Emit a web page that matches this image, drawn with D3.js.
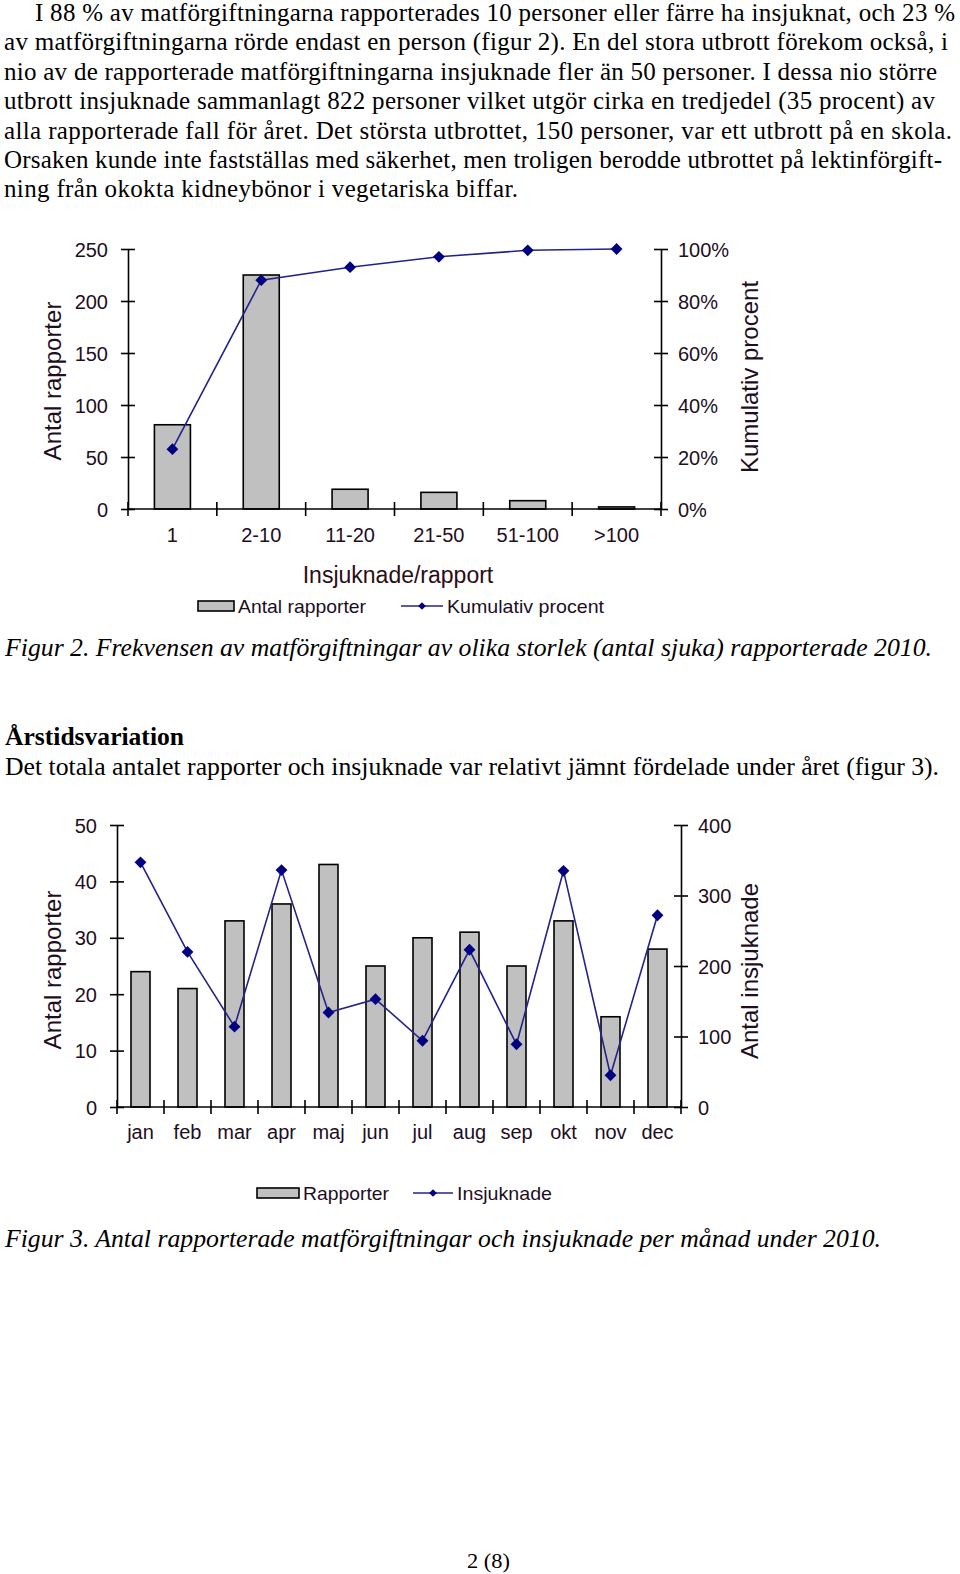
<!DOCTYPE html>
<html><head><meta charset="utf-8">
<script src="https://cdn.jsdelivr.net/npm/d3@7"></script>
<style>
html,body{margin:0;padding:0;background:#fff;}
svg{display:block;}
</style></head>
<body>
<svg id="page" width="960" height="1574"></svg>
<script>
// ---------- DATA ----------
const bodyLines = [
  "I 88 % av matförgiftningarna rapporterades 10 personer eller färre ha insjuknat, och 23 %",
  "av matförgiftningarna rörde endast en person (figur 2). En del stora utbrott förekom också, i",
  "nio av de rapporterade matförgiftningarna insjuknade fler än 50 personer. I dessa nio större",
  "utbrott insjuknade sammanlagt 822 personer vilket utgör cirka en tredjedel (35 procent) av",
  "alla rapporterade fall för året. Det största utbrottet, 150 personer, var ett utbrott på en skola.",
  "Orsaken kunde inte fastställas med säkerhet, men troligen berodde utbrottet på lektinförgift-",
  "ning från okokta kidneybönor i vegetariska biffar."
];
const caption2 = "Figur 2. Frekvensen av matförgiftningar av olika storlek (antal sjuka) rapporterade 2010.";
const heading = "Årstidsvariation";
const para2 = "Det totala antalet rapporter och insjuknade var relativt jämnt fördelade under året (figur 3).";
const caption3 = "Figur 3. Antal rapporterade matförgiftningar och insjuknade per månad under 2010.";
const pageNo = "2 (8)";

// Figure 2
const sizeCategories = ["1", "2-10", "11-20", "21-50", "51-100", ">100"];
const reportCounts = [81, 225, 19, 16, 8, 2];
const cumulativePercent = [23, 88, 93, 97, 99.5, 100];
const fig2LeftTicks = [0, 50, 100, 150, 200, 250];
const fig2RightTicks = [0, 20, 40, 60, 80, 100];

// Figure 3
const months = ["jan","feb","mar","apr","maj","jun","jul","aug","sep","okt","nov","dec"];
const monthlyReports = [24, 21, 33, 36, 43, 25, 30, 31, 25, 33, 16, 28];
const monthlyIll = [347, 220, 114, 336, 134, 153, 94, 223, 89, 335, 45, 272];
const fig3LeftTicks = [0, 10, 20, 30, 40, 50];
const fig3RightTicks = [0, 100, 200, 300, 400];

// ---------- LAYOUT ----------
const serif = "'Liberation Serif','Times New Roman',serif";
const sans = "'Liberation Sans',Arial,sans-serif";
const txtCol = "#1e0e1e";
const lineCol = "#23238a";
const markCol = "#000080";
const barFill = "#c0c0c0";

const svg = d3.select("#page");

// body text, justified per line
const lineStarts = [35, 4, 4, 4, 4, 4, 4];
const lineEnds   = [955, 948, 937, 935, 952, 942, 518];
svg.selectAll("text.body").data(bodyLines).join("text")
  .attr("class","body")
  .attr("x",(d,i)=>lineStarts[i])
  .attr("y",(d,i)=>21 + i*29.4)
  .attr("textLength",(d,i)=>lineEnds[i]-lineStarts[i])
  .attr("lengthAdjust","spacing")
  .style("font-family",serif).style("font-size","25px").attr("fill","#000")
  .text(d=>d);

function para(t, x, y, w, opts){
  const el = svg.append("text").attr("x",x).attr("y",y)
    .style("font-family",serif).style("font-size",(opts.size||25)+"px")
    .attr("fill","#000").text(t);
  if (opts.italic) el.style("font-style","italic");
  if (opts.bold) el.style("font-weight","bold");
  if (w) el.attr("textLength",w).attr("lengthAdjust","spacingAndGlyphs");
  return el;
}
para(caption2, 5, 656, 927, {italic:true});
para(heading, 5, 745, 179, {bold:true});
para(para2, 5, 775, 934, {});
para(caption3, 5, 1247, 876, {italic:true});
para(pageNo, 467, 1568, 43, {size:22});

function diamond(sel, size){
  return sel.attr("d", d3.symbol(d3.symbolSquare, size)()).attr("fill", markCol);
}

// generic combo chart
function comboChart(cfg){
  const g = svg.append("g");
  const x = d3.scaleBand().domain(cfg.cats).range([cfg.x0, cfg.x1]).paddingInner(0.6).paddingOuter(0.3);
  const yL = d3.scaleLinear().domain(cfg.leftDomain).range([cfg.yBottom, cfg.yTop]);
  const yR = d3.scaleLinear().domain(cfg.rightDomain).range([cfg.yBottom, cfg.yTop]);
  const step = (cfg.x1 - cfg.x0)/cfg.cats.length;
  const center = c => cfg.x0 + (cfg.cats.indexOf(c)+0.5)*step;

  // bars
  g.selectAll("rect.bar").data(cfg.cats).join("rect")
    .attr("x", c => center(c) - cfg.barW/2)
    .attr("width", cfg.barW)
    .attr("y", (c,i) => yL(cfg.bars[i]))
    .attr("height", (c,i) => yL(0) - yL(cfg.bars[i]))
    .attr("fill", barFill).attr("stroke", "#000").attr("stroke-width", 1.6);

  // left axis
  const la = g.append("g").attr("transform", `translate(${cfg.x0},0)`)
    .call(d3.axisLeft(yL).tickValues(cfg.leftTicks).tickSize(0).tickPadding(0).tickFormat(d3.format("d")));
  la.select(".domain").attr("stroke","#000").attr("stroke-width",1.6);
  la.selectAll(".tick line").attr("x1",-7).attr("x2",7).attr("stroke","#000").attr("stroke-width",1.6);
  la.selectAll(".tick text").attr("x", cfg.leftLabelX - cfg.x0).attr("dy","0.35em")
    .style("font-family",sans).style("font-size","20px").attr("fill",txtCol);

  // right axis
  const ra = g.append("g").attr("transform", `translate(${cfg.x1},0)`)
    .call(d3.axisRight(yR).tickValues(cfg.rightTicks).tickSize(0).tickPadding(0).tickFormat(cfg.rightFormat));
  ra.select(".domain").attr("stroke","#000").attr("stroke-width",1.6);
  ra.selectAll(".tick line").attr("x1",-7).attr("x2",7).attr("stroke","#000").attr("stroke-width",1.6);
  ra.selectAll(".tick text").attr("x", cfg.rightLabelX - cfg.x1).attr("dy","0.35em")
    .style("font-family",sans).style("font-size","20px").attr("fill",txtCol);

  // bottom axis
  const ba = g.append("g").attr("transform", `translate(0,${cfg.yBottom})`)
    .call(d3.axisBottom(x).tickSize(0).tickPadding(0));
  ba.select(".domain").remove();
  ba.selectAll(".tick line").remove();
  ba.selectAll(".tick text").attr("y", cfg.xLabelY - cfg.yBottom).attr("dy", 0)
    .style("font-family",sans).style("font-size","20px").attr("fill",txtCol);
  ba.append("line").attr("x1",cfg.x0).attr("x2",cfg.x1).attr("y1",0).attr("y2",0)
    .attr("stroke","#000").attr("stroke-width",1.6);
  ba.selectAll("line.bt").data(d3.range(cfg.cats.length+1)).join("line")
    .attr("class","bt")
    .attr("x1", i => cfg.x0 + i*step).attr("x2", i => cfg.x0 + i*step)
    .attr("y1",-7).attr("y2",7).attr("stroke","#000").attr("stroke-width",1.6);

  // line
  const lineGen = d3.line().x(c => center(c)).y((c,i) => yR(cfg.line[i]));
  g.append("path").datum(cfg.cats).attr("d", lineGen)
    .attr("fill","none").attr("stroke",lineCol).attr("stroke-width",1.6);
  g.selectAll("path.mk").data(cfg.cats).join("path").attr("class","mk")
    .call(diamond, 70)
    .attr("transform",(c,i)=>`translate(${center(c)},${yR(cfg.line[i])}) rotate(45)`);

  // axis titles
  g.append("text").attr("transform",`translate(${cfg.leftTitleX},${cfg.leftTitleY}) rotate(-90)`)
    .attr("text-anchor","middle").style("font-family",sans).style("font-size","24px")
    .attr("fill",txtCol).text(cfg.leftTitle);
  g.append("text").attr("transform",`translate(${cfg.rightTitleX},${cfg.rightTitleY}) rotate(-90)`)
    .attr("text-anchor","middle").style("font-family",sans).style("font-size","24px")
    .attr("fill",txtCol).text(cfg.rightTitle);

  if (cfg.xTitle){
    g.append("text").attr("x",cfg.xTitleX).attr("y",cfg.xTitleY).attr("text-anchor","middle")
      .style("font-family",sans).style("font-size","23px").attr("fill","#2a0e14").text(cfg.xTitle);
  }

  // legend
  const L = cfg.legend;
  const lg = g.append("g");
  lg.append("rect").attr("x",L.rectX).attr("y",L.y-5).attr("width",L.rectW).attr("height",10)
    .attr("fill",barFill).attr("stroke","#000").attr("stroke-width",1.6);
  lg.append("text").attr("x",L.rectX+L.rectW+4).attr("y",L.y).attr("dy","0.35em")
    .style("font-family",sans).style("font-size","19px").attr("fill",txtCol)
    .attr("textLength",L.t1W).attr("lengthAdjust","spacingAndGlyphs").text(L.t1);
  lg.append("line").attr("x1",L.lineX).attr("x2",L.lineX+L.lineW).attr("y1",L.y).attr("y2",L.y)
    .attr("stroke",lineCol).attr("stroke-width",1.6);
  lg.append("path").call(diamond, 30)
    .attr("transform",`translate(${L.lineX+L.lineW/2},${L.y}) rotate(45)`);
  lg.append("text").attr("x",L.lineX+L.lineW+4).attr("y",L.y).attr("dy","0.35em")
    .style("font-family",sans).style("font-size","19px").attr("fill",txtCol)
    .attr("textLength",L.t2W).attr("lengthAdjust","spacingAndGlyphs").text(L.t2);
}

comboChart({
  cats: sizeCategories, bars: reportCounts, line: cumulativePercent,
  x0: 128, x1: 661, yTop: 249, yBottom: 509, barW: 36,
  leftDomain: [0,250], rightDomain: [0,100],
  leftTicks: fig2LeftTicks, rightTicks: fig2RightTicks,
  rightFormat: d => d + "%",
  leftLabelX: 108, rightLabelX: 678, xLabelY: 542,
  leftTitle: "Antal rapporter", leftTitleX: 61, leftTitleY: 381,
  rightTitle: "Kumulativ procent", rightTitleX: 758, rightTitleY: 377,
  xTitle: "Insjuknade/rapport", xTitleX: 398, xTitleY: 583,
  legend: {y: 606, rectX: 198, rectW: 36, t1: "Antal rapporter", t1W: 128,
           lineX: 401, lineW: 42, t2: "Kumulativ procent", t2W: 157}
});

comboChart({
  cats: months, bars: monthlyReports, line: monthlyIll,
  x0: 117, x1: 681, yTop: 825, yBottom: 1107, barW: 19,
  leftDomain: [0,50], rightDomain: [0,400],
  leftTicks: fig3LeftTicks, rightTicks: fig3RightTicks,
  rightFormat: d3.format("d"),
  leftLabelX: 97, rightLabelX: 698, xLabelY: 1139,
  leftTitle: "Antal rapporter", leftTitleX: 61, leftTitleY: 970,
  rightTitle: "Antal insjuknade", rightTitleX: 758, rightTitleY: 971,
  legend: {y: 1193, rectX: 257, rectW: 42, t1: "Rapporter", t1W: 86,
           lineX: 413, lineW: 40, t2: "Insjuknade", t2W: 95}
});
</script>
</body></html>
